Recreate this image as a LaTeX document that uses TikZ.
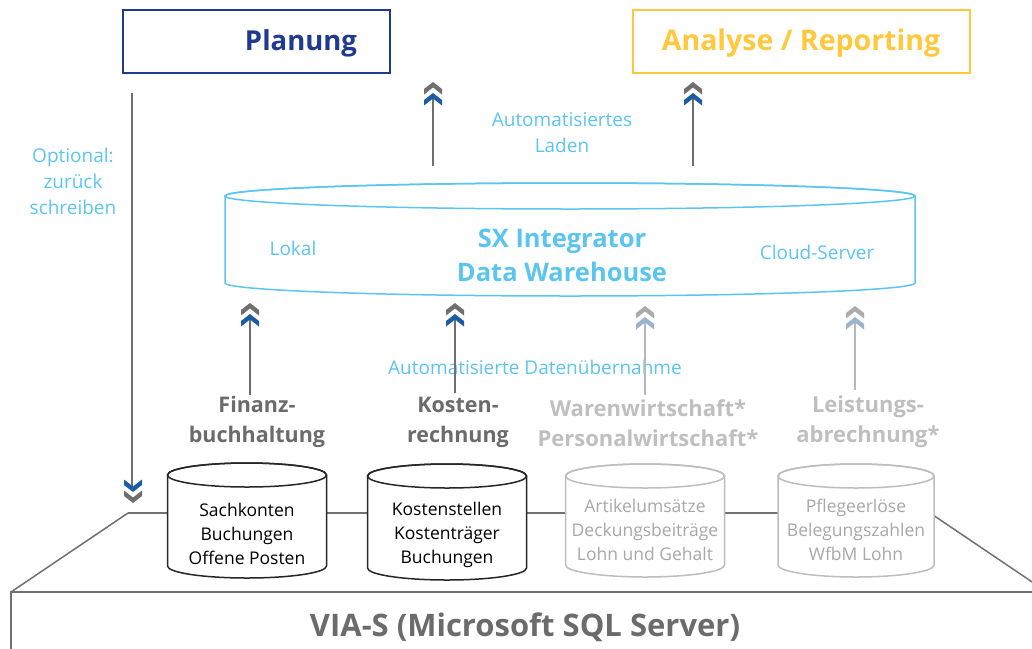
\documentclass[tikz,border=0pt]{standalone}
\usepackage{fontspec}
\setmainfont{Open Sans}
\definecolor{navy}{HTML}{1F3A8F}
\definecolor{gold}{HTML}{FFC83D}
\definecolor{lblue}{HTML}{5BC5F2}
\definecolor{dgray}{HTML}{6B6B6B}
\definecolor{fgray}{HTML}{BFBFBF}
\definecolor{ftext}{HTML}{A8A8A8}
\definecolor{cylblack}{HTML}{262626}
\definecolor{cylfade}{HTML}{BDBDBD}
\definecolor{platline}{HTML}{707070}
\definecolor{chgray}{HTML}{6F6F6F}
\definecolor{chblue}{HTML}{1A5DA6}
\definecolor{chfgray}{HTML}{ABABAB}
\definecolor{chfblue}{HTML}{9BB3CF}
\definecolor{linefade}{HTML}{B8B8B8}
\tikzset{
  chevron/.pic={\fill (0,0)--(9,7)--(9,12.5)--(0,5.5)--(-9,12.5)--(-9,7)--cycle;},
  arrline/.style={draw=chgray, line width=2pt},
  arrfade/.style={draw=linefade, line width=2pt},
  topbox/.style={draw, line width=1.6pt, inner sep=0pt},
  lbtext/.style={text=lblue, font=\fontsize{19}{26}\selectfont, align=center},
  srclabel/.style={text=dgray, font=\bfseries\fontsize{21.5}{30}\selectfont, align=center},
  srcfade/.style={text=fgray, font=\bfseries\fontsize{22}{30}\selectfont, align=center},
  cyltext/.style={font=\fontsize{17.5}{24}\selectfont, align=center},
}
\newcommand{\mycyl}[6]{% cx, topy, boty, rx, ry, color
  \filldraw[fill=white, draw=#6, line width=1.5pt]
    (#1-#4,#2) -- (#1-#4,#3) arc[start angle=180, end angle=360, x radius=#4pt, y radius=#5pt] -- (#1+#4,#2)
    arc[start angle=0, end angle=180, x radius=#4pt, y radius=#5pt] -- cycle;
  \draw[draw=#6, line width=1.5pt] (#1,#2) ellipse[x radius=#4pt, y radius=#5pt];
}
\begin{document}
\begin{tikzpicture}[x=1pt,y=-1pt]
\useasboundingbox (0,0) rectangle (1032,648);

% platform
\draw[platline, line width=1.5pt] (128,513) -- (930,513);
\draw[platline, line width=1.5pt] (128,513) -- (11,592);
\draw[platline, line width=1.5pt] (930,513) -- (1047,592);
\draw[platline, line width=2.5pt] (11,670) -- (11,592) -- (1050,592);
\node[text=dgray, font=\bfseries\fontsize{31}{34}\selectfont] (vias) at (525,627) {VIA-S (Microsoft SQL Server)};

% top boxes
\draw[topbox, navy] (123,10) rectangle (390,73);
\node[text=navy, font=\bfseries\fontsize{27.5}{30}\selectfont] (plan) at (301,43) {Planung};
\draw[topbox, gold] (633,10) rectangle (970,73);
\node[text=gold, font=\bfseries\fontsize{28.5}{30}\selectfont] (ana) at (801,43) {Analyse / Reporting};

% data warehouse cylinder
\mycyl{570}{196}{283}{345}{13}{lblue}
\node[text=lblue, font=\bfseries\fontsize{25.5}{34}\selectfont, align=center] (dw) at (562,255) {SX Integrator\\Data Warehouse};
\node[lbtext] (lokal) at (293,248) {Lokal};
\node[lbtext] (cloud) at (817,252) {Cloud-Server};

% labels
\node[lbtext] (opt) at (73,181) {Optional:\\zurück\\schreiben};
\node[lbtext] (auto) at (562,133) {Automatisiertes\\Laden};
\node[lbtext] (uebern) at (535,367) {Automatisierte Datenübernahme};

% source labels
\node[srclabel] (fin) at (257,422) {Finanz-\\buchhaltung};
\node[srclabel] (kost) at (458,422) {Kosten-\\rechnung};
\node[srcfade] (waren) at (648,423) {Warenwirtschaft*\\Personalwirtschaft*};
\node[srcfade] (leist) at (868,422) {Leistungs-\\abrechnung*};

% arrows coordinates
\coordinate (a1s) at (433,166); \coordinate (a1e) at (433,97);
\coordinate (a2s) at (693,166); \coordinate (a2e) at (693,97);
\coordinate (b1s) at (250,395); \coordinate (b1e) at (250,318);
\coordinate (b2s) at (455,393); \coordinate (b2e) at (455,318);
\coordinate (b3s) at (645,395); \coordinate (b3e) at (645,322);
\coordinate (b4s) at (855,390); \coordinate (b4e) at (855,322);
\coordinate (ds) at (132,93); \coordinate (de) at (132,487);

\draw[arrline] (a1s) -- (a1e);
\draw[arrline] (a2s) -- (a2e);
\draw[arrline] (b1s) -- (b1e);
\draw[arrline] (b2s) -- (b2e);
\draw[arrfade] (b3s) -- (b3e);
\draw[arrfade] (b4s) -- (b4e);
\draw[arrline] (ds) -- (de);

\foreach \x in {433,693} {
  \pic[chgray] at (\x,82) {chevron};
  \pic[chblue] at (\x,93) {chevron};
}
\foreach \x in {250,455} {
  \pic[chgray] at (\x,303) {chevron};
  \pic[chblue] at (\x,314) {chevron};
}
\foreach \x in {645,855} {
  \pic[chfgray] at (\x,306) {chevron};
  \pic[chfblue] at (\x,317) {chevron};
}
\pic[chblue, yscale=-1] at (133,492) {chevron};
\pic[chgray, yscale=-1] at (133,503) {chevron};

% source cylinders
\mycyl{247}{475}{566}{79.5}{12}{cylblack}
\node[cyltext, text=black] (c1) at (247,534) {Sachkonten\\Buchungen\\Offene Posten};
\mycyl{447}{476}{568}{79.5}{12}{cylblack}
\node[cyltext, text=black] (c2) at (447,535) {Kostenstellen\\Kostenträger\\Buchungen};
\mycyl{645}{476}{565}{79.5}{12}{cylfade}
\node[cyltext, text=ftext] (c3) at (645,530) {Artikelumsätze\\Deckungsbeiträge\\Lohn und Gehalt};
\mycyl{856}{476}{565}{78}{12}{cylfade}
\node[cyltext, text=ftext] (c4) at (856,530) {Pflegeerlöse\\Belegungszahlen\\WfbM Lohn};
\end{tikzpicture}
\end{document}
